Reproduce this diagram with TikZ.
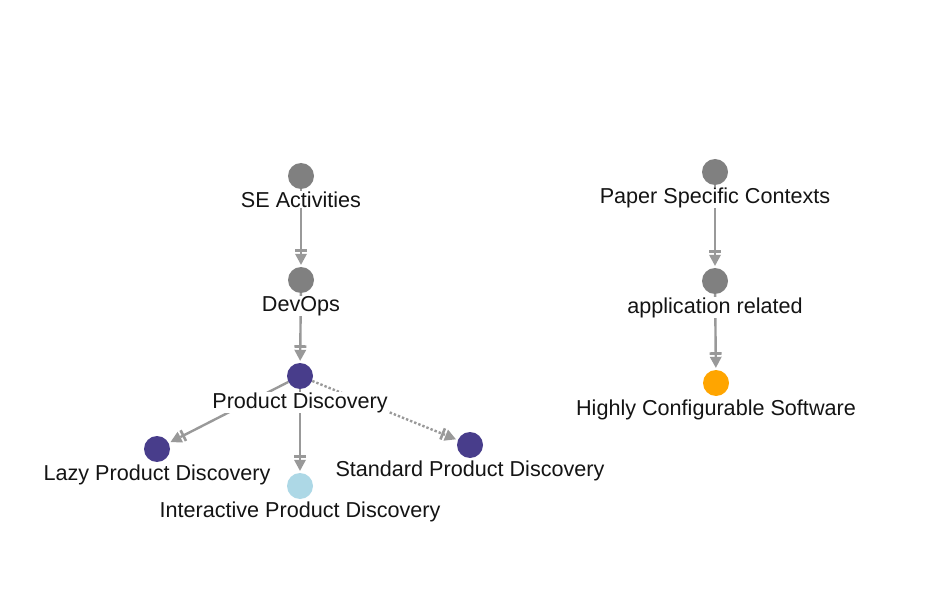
\documentclass[tikz,border=0pt]{standalone}
\usepackage{fontspec}
\setmainfont{Liberation Sans}
\usepackage{xcolor}
\usetikzlibrary{arrows.meta}
\definecolor{conceptgray}{HTML}{808080}
\definecolor{conceptpurple}{HTML}{483D8B}
\definecolor{conceptlight}{HTML}{ADD8E6}
\definecolor{conceptorange}{HTML}{FFA500}
\definecolor{linkgray}{HTML}{999999}
\tikzset{
  concept/.style={circle,fill=#1,inner sep=0pt,minimum size=26pt},
  concept label/.style={fill=white,inner sep=0.5pt,anchor=base,
    font=\fontsize{21.6}{24}\selectfont,text=black!92},
  link/.style={draw=linkgray,line width=2.4pt,shorten >=2pt,
    -{Bar[width=12pt,line width=2.6pt,sep=2pt]Triangle[length=11pt,width=12pt,line width=0pt]}},
  optional link/.style={link,dotted}
}

\begin{document}
\begin{tikzpicture}[x=1pt,y=-1pt]
  \useasboundingbox (0,0) rectangle (932,604);
  % left tree
  \node[concept=conceptgray] (se) at (301,176) {};
  \node[concept=conceptgray] (devops) at (301,280) {};
  \node[concept=conceptpurple] (pd) at (300,376) {};
  \node[concept=conceptpurple] (lazy) at (157,449) {};
  \node[concept=conceptlight] (interactive) at (300,486) {};
  \node[concept=conceptpurple] (standard) at (470,445) {};
  % right tree
  \node[concept=conceptgray] (paper) at (715,172) {};
  \node[concept=conceptgray] (app) at (715,281) {};
  \node[concept=conceptorange] (hcs) at (716,383) {};

  \draw[link] (se) -- (devops);
  \draw[link] (devops) -- (pd);
  \draw[link] (pd) -- (lazy);
  \draw[link] (pd) -- (interactive);
  \draw[optional link] (pd) -- (standard);
  \draw[link] (paper) -- (app);
  \draw[link] (app) -- (hcs);

  \node[concept label] (se-l) at (301,207.5) {SE Activities};
  \node[concept label] (devops-l) at (301,311.5) {DevOps};
  \node[concept label] (pd-l) at (300,408) {Product Discovery};
  \node[concept label] (lazy-l) at (157,480.5) {Lazy Product Discovery};
  \node[concept label] (interactive-l) at (300,517.5) {Interactive Product Discovery};
  \node[concept label] (standard-l) at (470,476.5) {Standard Product Discovery};
  \node[concept label] (paper-l) at (715,203.5) {Paper Specific Contexts};
  \node[concept label] (app-l) at (715,313) {application related};
  \node[concept label] (hcs-l) at (716,415) {Highly Configurable Software};
\end{tikzpicture}
\end{document}
